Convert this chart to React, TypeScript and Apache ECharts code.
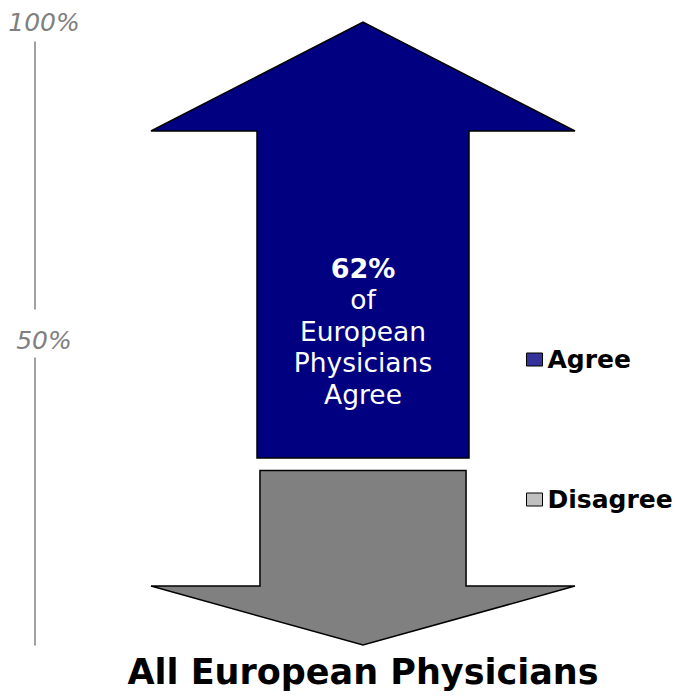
import React, { useEffect, useRef } from "react";
import * as echarts from "echarts";

// ---- data ----
const categories = ["All European Physicians"];
const seriesNames = ["Agree", "Disagree"];
const shares = [62, 38]; // percent of physicians
// arrow extents on the 0-100% scale: [shaft end, tip]
const agreeArrow = [30, 100];
const disagreeArrow = [28, 0];
const yTickLabels = ["0%", "50%", "100%"];

// ---- styles ----
const AGREE_FILL = "#000080";
const DISAGREE_FILL = "#808080";
const FONT = "DejaVu Sans";

function makeArrowRenderer(headFrac: number, shaftFrac: number, withText: boolean) {
  return (params: any, api: any) => {
    const cat = api.value(0);
    const from = api.value(1);
    const to = api.value(2);
    const [cx, y0] = api.coord([cat, from]);
    const y1 = api.coord([cat, to])[1];
    const band = api.size([1, 0])[0];
    const half = band / 2;
    const sh = (band * shaftFrac) / 2;
    const yHead = y1 + (y0 - y1) * headFrac;
    const children: any[] = [
      {
        type: "polygon",
        shape: {
          points: [
            [cx - sh, y0],
            [cx - sh, yHead],
            [cx - half, yHead],
            [cx, y1],
            [cx + half, yHead],
            [cx + sh, yHead],
            [cx + sh, y0],
          ],
        },
        style: {
          fill: api.visual("color"),
          stroke: "#000",
          lineWidth: 1.5,
        },
      },
    ];
    if (withText) {
      const ty = api.coord([cat, shares[0]])[1] - 6;
      children.push({
        type: "text",
        x: cx,
        y: ty,
        style: {
          text: `{b|${shares[0]}%}\nof\nEuropean\nPhysicians\nAgree`,
          align: "center",
          verticalAlign: "top",
          textAlign: "center",
          textVerticalAlign: "top",
          fill: "#fff",
          fontFamily: FONT,
          fontSize: 26.5,
          lineHeight: 31.5,
          rich: {
            b: {
              fontFamily: FONT,
              fontSize: 27,
              fontWeight: "bold",
              fill: "#fff",
              color: "#fff",
              lineHeight: 31.5,
            },
          },
        },
      });
    }
    return { type: "group", children };
  };
}

export default function App() {
  const ref = useRef<HTMLDivElement>(null);
  useEffect(() => {
    if (!ref.current) return;
    const chart = echarts.init(ref.current, undefined, { renderer: "svg" });
    chart.setOption({
      animation: false,
      backgroundColor: "#fff",
      textStyle: { fontFamily: FONT },
      grid: { left: 151, right: 106, top: 22, bottom: 54, containLabel: false },
      legend: {
        orient: "vertical",
        left: 526,
        top: 347,
        padding: 0,
        itemGap: 115,
        itemWidth: 16,
        itemHeight: 13,
        icon: "rect",
        textStyle: { fontFamily: FONT, fontSize: 25, fontWeight: "bold", color: "#000" },
        data: [
          { name: seriesNames[0], itemStyle: { color: "#333399", borderColor: "#000", borderWidth: 1 } },
          { name: seriesNames[1], itemStyle: { color: "#C0C0C0", borderColor: "#000", borderWidth: 1 } },
        ],
      },
      xAxis: {
        type: "category",
        data: categories,
        axisLine: { show: false },
        axisTick: { show: false },
        axisLabel: {
          margin: 9,
          fontFamily: FONT,
          fontSize: 35,
          fontWeight: "bold",
          color: "#000",
        },
      },
      yAxis: {
        type: "value",
        min: 0,
        max: 100,
        interval: 50,
        offset: 116,
        axisLine: { show: true, lineStyle: { color: "#808080", width: 1.5 } },
        axisTick: { show: false },
        splitLine: { show: false },
        axisLabel: {
          showMinLabel: false,
          margin: -9,
          align: "center",
          formatter: (v: number) => {
            const t = yTickLabels[Math.round(v / 50)] ?? "";
            return v === 50 ? `{m|${t}}` : `{t|${t}}`;
          },
          fontFamily: FONT,
          fontSize: 25,
          fontStyle: "italic",
          color: "#808080",
          rich: {
            m: {
              fontFamily: FONT,
              fontSize: 25,
              fontStyle: "italic",
              color: "#808080",
              backgroundColor: "#fff",
              padding: [18, 3, 5, 3],
            },
            t: {
              fontFamily: FONT,
              fontSize: 25,
              fontStyle: "italic",
              color: "#808080",
              backgroundColor: "#fff",
              padding: [7, 3, 7, 3],
            },
          },
        },
      },
      series: [
        {
          name: seriesNames[0],
          type: "custom",
          color: AGREE_FILL,
          renderItem: makeArrowRenderer(0.25, 0.5, true),
          data: [[categories[0], agreeArrow[0], agreeArrow[1]]],
          z: 3,
        },
        {
          name: seriesNames[1],
          type: "custom",
          color: DISAGREE_FILL,
          renderItem: makeArrowRenderer(0.338, 0.486, false),
          data: [[categories[0], disagreeArrow[0], disagreeArrow[1]]],
          z: 2,
        },
      ],
    });
    return () => chart.dispose();
  }, []);
  return (
    <div
      ref={ref}
      style={{ position: "absolute", left: 0, top: 0, width: 681, height: 699 }}
    />
  );
}
